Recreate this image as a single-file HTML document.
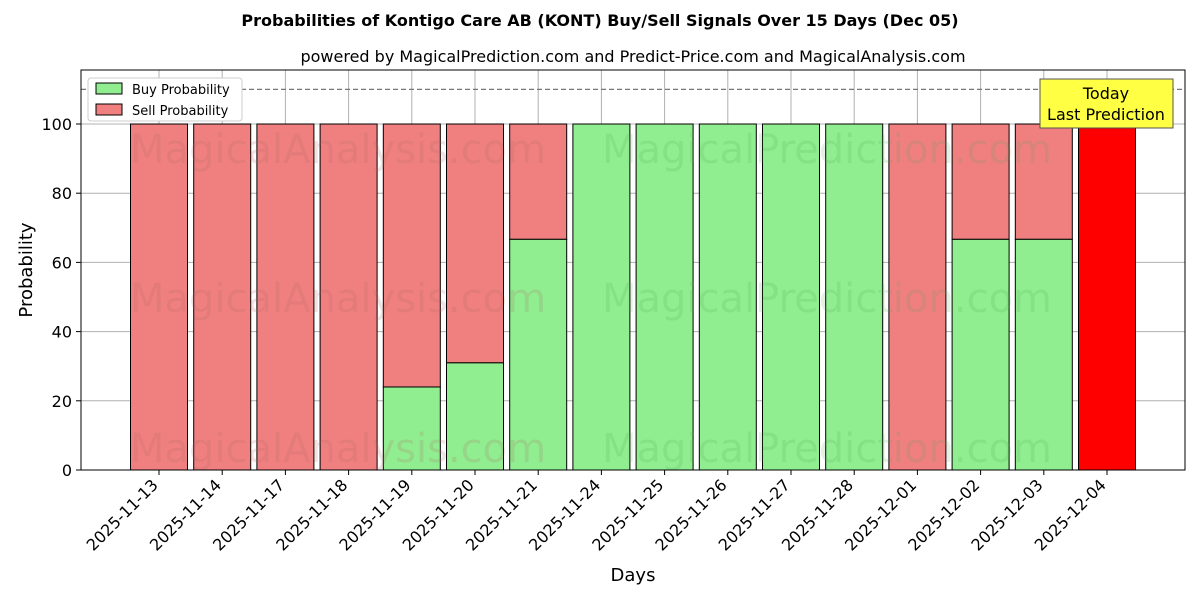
<!DOCTYPE html>
<html><head><meta charset="utf-8"><style>body{margin:0;background:#fff}svg{display:block}</style></head><body>
<svg width="1200" height="600" xmlns="http://www.w3.org/2000/svg" font-family="DejaVu Sans, Liberation Sans, sans-serif">
<text x="600" y="26" text-anchor="middle" font-size="16" font-weight="bold">Probabilities of Kontigo Care AB (KONT) Buy/Sell Signals Over 15 Days (Dec 05)</text>
<text x="633" y="62" text-anchor="middle" font-size="16">powered by MagicalPrediction.com and Predict-Price.com and MagicalAnalysis.com</text>
<g id="bars"></g>
<g stroke="#b0b0b0" stroke-width="1" id="grid"></g>
<g font-size="40" fill="rgba(180,100,100,0.18)">
<text x="130" y="163">MagicalAnalysis.com</text>
<text x="130" y="312">MagicalAnalysis.com</text>
<text x="130" y="462">MagicalAnalysis.com</text>
</g>
<g font-size="40" fill="rgba(80,160,80,0.16)">
<text x="602" y="163">MagicalPrediction.com</text>
<text x="602" y="312">MagicalPrediction.com</text>
<text x="602" y="462">MagicalPrediction.com</text>
</g>
<line x1="81" y1="89.4" x2="1185" y2="89.4" stroke="#777" stroke-dasharray="5,3" stroke-width="1.2"/>
<rect x="81" y="70" width="1104" height="400" fill="none" stroke="#000" stroke-width="1"/>
<g id="yt" font-size="16" text-anchor="end"></g>
<g id="xt" font-size="16"></g>
<text x="633" y="581" text-anchor="middle" font-size="18">Days</text>
<text x="32" y="270" text-anchor="middle" font-size="18" transform="rotate(-90 32 270)">Probability</text>
<rect x="88" y="78" width="154" height="43" fill="#fff" stroke="#ccc" rx="3"/>
<rect x="96" y="83" width="26" height="11" fill="#90ee90" stroke="#000"/>
<text x="132" y="94" font-size="13">Buy Probability</text>
<rect x="96" y="104" width="26" height="11" fill="#f08080" stroke="#000"/>
<text x="132" y="115" font-size="13">Sell Probability</text>
<rect x="1040" y="79" width="133" height="49" fill="#ffff44" stroke="#555"/>
<text x="1106" y="99" text-anchor="middle" font-size="16">Today</text>
<text x="1106" y="120" text-anchor="middle" font-size="16">Last Prediction</text>
</svg>
<script>
const ns="http://www.w3.org/2000/svg";
const dates=["2025-11-13","2025-11-14","2025-11-17","2025-11-18","2025-11-19","2025-11-20","2025-11-21","2025-11-24","2025-11-25","2025-11-26","2025-11-27","2025-11-28","2025-12-01","2025-12-02","2025-12-03","2025-12-04"];
const buy=[0,0,0,0,24,31,66.7,100,100,100,100,100,0,66.7,66.7,0];
const y=v=>470-v*3.46;
const svg=document.querySelector("svg");
function el(t,a,p){const e=document.createElementNS(ns,t);for(const k in a)e.setAttribute(k,a[k]);(p||svg).appendChild(e);return e;}
const bars=document.getElementById("bars"),grid=document.getElementById("grid"),yt=document.getElementById("yt"),xt=document.getElementById("xt");
dates.forEach((d,i)=>{const cx=159+i*63.2,x=cx-28.5,w=57;
 const last=i==15;
 if(buy[i]>0)el("rect",{x,y:y(buy[i]),width:w,height:470-y(buy[i]),fill:"#90ee90",stroke:"#000"},bars);
 if(buy[i]<100)el("rect",{x,y:y(100),width:w,height:y(buy[i])-y(100),fill:last?"#ff0000":"#f08080",stroke:"#000"},bars);
 el("line",{x1:cx,x2:cx,y1:70,y2:470},grid);
 el("line",{x1:cx,x2:cx,y1:470,y2:475,stroke:"#000"});
 const t=el("text",{x:cx,y:486,"text-anchor":"end",transform:`rotate(-45 ${cx} 486)`},xt);t.textContent=d;});
[0,20,40,60,80,100].forEach(v=>{el("line",{x1:81,x2:1185,y1:y(v),y2:y(v)},grid);
 el("line",{x1:76,x2:81,y1:y(v),y2:y(v),stroke:"#000"});
 const t=el("text",{x:72,y:y(v)+6},yt);t.textContent=v;});
svg.insertBefore(grid,bars);
</script>
</body></html>
